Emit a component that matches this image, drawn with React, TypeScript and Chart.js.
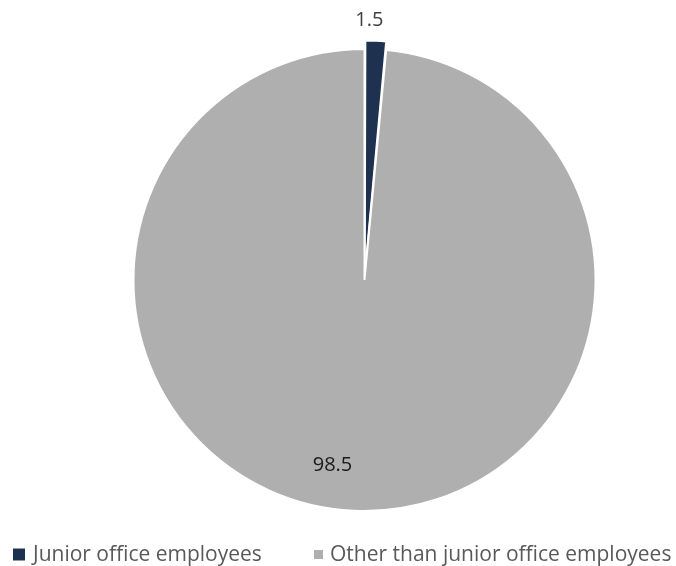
import { useEffect, useRef } from "react";
import { Chart, registerables } from "chart.js";

Chart.register(...registerables);

// ---- data ----
const categories = ["Junior office employees", "Other than junior office employees"];
const values = [1.5, 98.5];
const valueLabels = ["1.5", "98.5"];
const colors = ["#1F3150", "#AFAFAF"];
const offsets = [18, 0];

const FONT = "'Open Sans', 'DejaVu Sans', sans-serif";

// label placement (styling): fraction along the arc, and radial placement
const labelPlacement = [
  { frac: 0.2, outside: true, pad: 11, r: 0, color: "#404040" },
  { frac: 0.52, outside: false, pad: 0, r: 0.815, color: "#1A1A1A" },
];

// legend styling
const legendItems = [
  { x: 13, box: 12, textGap: 8 },
  { x: 314, box: 9, textGap: 7 },
];

const valueLabelPlugin = {
  id: "valueLabels",
  afterDatasetsDraw(chart: any) {
    const meta = chart.getDatasetMeta(0);
    const ctx = chart.ctx as CanvasRenderingContext2D;
    ctx.save();
    ctx.font = `20px ${FONT}`;
    ctx.textAlign = "center";
    ctx.textBaseline = "middle";
    meta.data.forEach((arc: any, i: number) => {
      const p = arc.getProps(["x", "y", "startAngle", "endAngle", "outerRadius"], true);
      const cfg = labelPlacement[i];
      const a = p.startAngle + (p.endAngle - p.startAngle) * cfg.frac;
      const r = cfg.outside ? p.outerRadius + offsets[i] + cfg.pad : p.outerRadius * cfg.r;
      ctx.fillStyle = cfg.color;
      ctx.fillText(valueLabels[i], p.x + Math.cos(a) * r, p.y + Math.sin(a) * r);
    });
    ctx.restore();
  },
};

const legendPlugin = {
  id: "customLegend",
  afterDraw(chart: any) {
    const ctx = chart.ctx as CanvasRenderingContext2D;
    const cy = 554.5;
    ctx.save();
    ctx.font = `21px ${FONT}`;
    ctx.textBaseline = "middle";
    ctx.textAlign = "left";
    categories.forEach((label, i) => {
      const it = legendItems[i];
      ctx.fillStyle = colors[i];
      ctx.fillRect(it.x, cy - it.box / 2, it.box, it.box);
      ctx.fillStyle = "#595959";
      ctx.fillText(label, it.x + it.box + it.textGap, cy + 1);
    });
    ctx.restore();
  },
};

export default function App() {
  const ref = useRef<HTMLCanvasElement | null>(null);

  useEffect(() => {
    if (!ref.current) return;
    const chart = new Chart(ref.current, {
      type: "pie",
      data: {
        labels: categories,
        datasets: [
          {
            data: values,
            backgroundColor: colors,
            borderColor: "#FFFFFF",
            borderWidth: 2,
            offset: offsets,
            hoverOffset: 0,
            radius: 231,
          } as any,
        ],
      },
      options: {
        animation: false,
        responsive: false,
        maintainAspectRatio: false,
        events: [],
        layout: { padding: { left: 53, right: 0, top: 0, bottom: 6 } },
        plugins: {
          legend: { display: false },
          tooltip: { enabled: false },
        },
      } as any,
      plugins: [valueLabelPlugin, legendPlugin],
    });
    return () => chart.destroy();
  }, []);

  return (
    <div style={{ position: "absolute", left: 0, top: 0, width: 676, height: 566, background: "#FFFFFF" }}>
      <canvas ref={ref} width={676} height={566} style={{ display: "block", width: 676, height: 566 }} />
    </div>
  );
}
